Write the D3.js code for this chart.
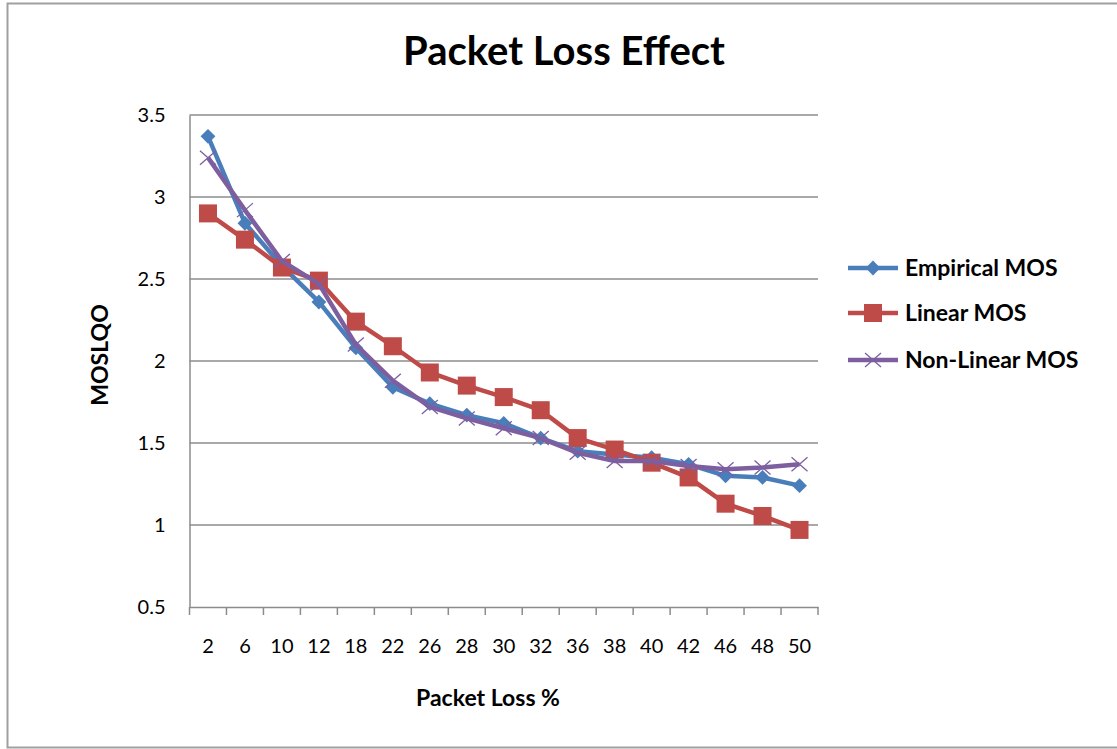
<!DOCTYPE html>
<html>
<head>
<meta charset="utf-8">
<script src="https://cdn.jsdelivr.net/npm/d3@7"></script>
<style>
  body { margin: 0; background: #fff; }
  text { font-family: Lato, 'Open Sans', sans-serif; fill: #000; }
</style>
</head>
<body>
<svg id="chart" width="1117" height="749"></svg>
<script>
const packetLoss = ['2', '6', '10', '12', '18', '22', '26', '28', '30', '32', '36', '38', '40', '42', '46', '48', '50'];
const empiricalMos = [3.37, 2.84, 2.58, 2.36, 2.08, 1.84, 1.74, 1.67, 1.62, 1.53, 1.45, 1.43, 1.41, 1.37, 1.30, 1.29, 1.24];
const linearMos = [2.90, 2.74, 2.57, 2.49, 2.24, 2.09, 1.93, 1.85, 1.78, 1.70, 1.53, 1.46, 1.38, 1.29, 1.13, 1.055, 0.97];
const nonLinearMos = [3.24, 2.92, 2.61, 2.47, 2.10, 1.88, 1.72, 1.65, 1.59, 1.53, 1.44, 1.39, 1.39, 1.36, 1.34, 1.35, 1.37];
const yTicks = [0.5, 1, 1.5, 2, 2.5, 3, 3.5];
const seriesNames = ['Empirical MOS', 'Linear MOS', 'Non-Linear MOS'];

const svg = d3.select('#chart');
const plotLeft = 189.5, plotRight = 818, plotTop = 115, plotBottom = 607;

// outer frame
svg.append('rect')
  .attr('x', 7.5).attr('y', 3.5)
  .attr('width', 1120).attr('height', 744)
  .attr('fill', 'none').attr('stroke', '#a0a0a0').attr('stroke-width', 2);

const x = d3.scaleBand().domain(packetLoss).range([plotLeft, plotRight]);
const y = d3.scaleLinear().domain([0.5, 3.5]).range([plotBottom, plotTop]);

// gridlines
svg.append('g')
  .selectAll('line')
  .data(yTicks.slice(1))
  .join('line')
  .attr('x1', plotLeft).attr('x2', plotRight)
  .attr('y1', d => y(d)).attr('y2', d => y(d))
  .attr('stroke', '#8c8c8c').attr('stroke-width', 1.5);

// y axis
const yAxis = d3.axisLeft(y).tickValues(yTicks).tickSize(0).tickPadding(24)
  .tickFormat(d => String(d));
const gy = svg.append('g').attr('transform', 'translate(' + plotLeft + ',0)').call(yAxis);
gy.attr('font-size', null).attr('font-family', null);
gy.select('.domain').attr('stroke', '#8c8c8c').attr('stroke-width', 1.5);
gy.selectAll('text').style('font-size', '20px').attr('fill', '#000');

// x axis
const xAxis = d3.axisBottom(x).tickSize(0).tickPadding(32);
const gx = svg.append('g').attr('transform', 'translate(0,' + plotBottom + ')').call(xAxis);
gx.attr('font-size', null).attr('font-family', null);
gx.select('.domain').attr('stroke', '#8c8c8c').attr('stroke-width', 1.5);
gx.selectAll('text').style('font-size', '20px').attr('fill', '#000');
// tick marks between categories
const tickPos = packetLoss.map(d => x(d)).concat([plotRight]);
svg.append('g')
  .selectAll('line')
  .data(tickPos)
  .join('line')
  .attr('x1', d => d).attr('x2', d => d)
  .attr('y1', plotBottom).attr('y2', plotBottom + 8)
  .attr('stroke', '#8c8c8c').attr('stroke-width', 1.5);

// titles
svg.append('text')
  .attr('x', 564).attr('y', 65)
  .attr('text-anchor', 'middle')
  .style('font-size', '40px').style('font-weight', 'bold')
  .text('Packet Loss Effect');
svg.append('text')
  .attr('x', 488).attr('y', 706)
  .attr('text-anchor', 'middle')
  .style('font-size', '23px').style('font-weight', 'bold')
  .text('Packet Loss %');
svg.append('text')
  .attr('transform', 'translate(108,' + 355 + ') rotate(-90)')
  .attr('text-anchor', 'middle')
  .style('font-size', '23px').style('font-weight', 'bold')
  .text('MOSLQO');

const colors = ['#4a7ebb', '#be4b48', '#7d5fa0'];
const allSeries = [empiricalMos, linearMos, nonLinearMos];
const cx = d => x(d) + x.bandwidth() / 2;

const line = d3.line()
  .x((d, i) => cx(packetLoss[i]))
  .y(d => y(d));

function drawMarker(g, kind, color) {
  if (kind === 0) {
    g.append('path').attr('d', d3.symbol(d3.symbolSquare, 110)()).attr('fill', color)
      .attr('transform', 'rotate(45)');
  } else if (kind === 1) {
    g.append('rect').attr('x', -9).attr('y', -9).attr('width', 18).attr('height', 18).attr('fill', color);
  } else {
    g.append('path').attr('d', 'M-8,-7L8,7M-8,7L8,-7').attr('stroke', color).attr('stroke-width', 1.3).attr('fill', 'none');
  }
}

allSeries.forEach((vals, s) => {
  svg.append('path')
    .datum(vals)
    .attr('fill', 'none')
    .attr('stroke', colors[s])
    .attr('stroke-width', 4.5)
    .attr('stroke-linejoin', 'round')
    .attr('d', line);
  vals.forEach((v, i) => {
    const g = svg.append('g').attr('transform', 'translate(' + cx(packetLoss[i]) + ',' + y(v) + ')');
    drawMarker(g, s, colors[s]);
  });
});

// legend
const legendY = [268, 313, 360];
seriesNames.forEach((name, s) => {
  const g = svg.append('g').attr('transform', 'translate(0,' + legendY[s] + ')');
  g.append('line').attr('x1', 848).attr('x2', 898).attr('y1', 0).attr('y2', 0)
    .attr('stroke', colors[s]).attr('stroke-width', 4.5);
  const m = g.append('g').attr('transform', 'translate(873,0)');
  drawMarker(m, s, colors[s]);
  g.append('text').attr('x', 905).attr('y', 8)
    .style('font-size', '23px').style('font-weight', 'bold')
    .text(name);
});
</script>
</body>
</html>
